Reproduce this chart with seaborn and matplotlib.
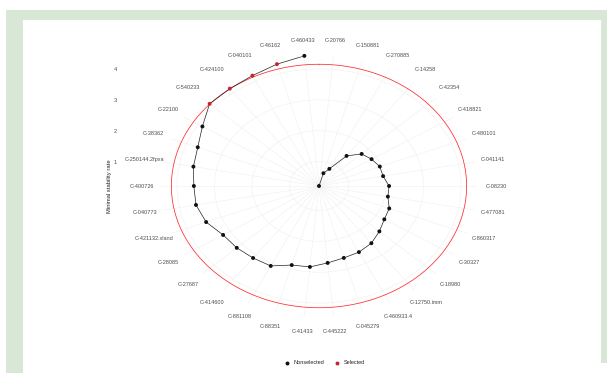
import numpy as np
import pandas as pd
import matplotlib
matplotlib.use("Agg")
import matplotlib.pyplot as plt
from matplotlib.patches import Rectangle
import seaborn as sns

# Genes in clockwise order and their stability scores
genes = ["C-20766", "C-150881", "C-270885", "C-14258", "C-42354", "C-418821",
         "C-480101", "C-041141", "C-08230", "C-477081", "C-860317", "C-30327",
         "C-18980", "C-12750.imm", "C-460933.4", "C-045279", "C-445222", "C-41433",
         "C-88351", "C-881108", "C-414600", "C-27687", "C-28085", "C-421132.xland",
         "C-040773", "C-400726", "C-250144.2fpxa", "C-38362", "C-22100", "C-540233",
         "C-424100", "C-040101", "C-46162", "C-460433"]
scores = [0.21, 0.64, 0.83, 1.43, 1.75, 1.86, 1.95, 1.95, 2.08, 2.08, 2.22, 2.26,
          2.39, 2.53, 2.60, 2.63, 2.71, 2.84, 2.87, 3.10, 3.13, 3.18, 3.22, 3.44,
          3.55, 3.55, 3.62, 3.68, 3.87, 4.16, 4.16, 4.20, 4.31, 4.44]
status = ["Nonselected"] * 29 + ["Selected"] * 4 + ["Nonselected"]
cutoff = 4.15
r_ticks = [1, 2, 3, 4]

sns.set_theme(style="white")
plt.rcParams["font.family"] = ["Liberation Sans", "DejaVu Sans"]

n = len(genes)
theta = (np.arange(n) + 0.5) * 2 * np.pi / n
df = pd.DataFrame({"gene": genes, "theta": theta, "score": scores, "status": status})

W, H, DPI = 607, 373, 100
fig = plt.figure(figsize=(W / DPI, H / DPI), dpi=DPI)
fig.patch.set_facecolor("white")

# page frame
green = "#d8e7d6"
fig.patches.append(Rectangle((6 / W, 0), (W - 6) / W, 1 - 10 / H, transform=fig.transFigure,
                             facecolor=green, edgecolor="none", zorder=-20))
fig.patches.append(Rectangle((23 / W, 0), (601 - 23) / W, 1 - 20 / H, transform=fig.transFigure,
                             facecolor="white", edgecolor="none", zorder=-19))
fig.patches.append(Rectangle((601 / W, 0), 6 / W, 10 / H, transform=fig.transFigure,
                             facecolor="white", edgecolor="none", zorder=-19))

# polar panel (stretched to an ellipse)
cx, cy = 319, 186
rx, ry = 158.5, 130.7
ax = fig.add_axes([(cx - rx) / W, (H - cy - ry) / H, 2 * rx / W, 2 * ry / H],
                  projection="polar")
ax.set_aspect("auto")
ax.set_theta_zero_location("N")
ax.set_theta_direction(-1)
rmin, rmax = min(scores), max(scores)
ax.set_ylim(rmin, rmax)
ax.set_facecolor("none")
ax.spines["polar"].set_visible(False)
ax.set_xticks(theta)
ax.set_xticklabels([])
ax.set_yticks(r_ticks)
ax.set_yticklabels([])
ax.grid(True, color="#f1f1f1", lw=0.45)
ax.tick_params(length=0)

# cutoff ring
ring = np.linspace(0, 2 * np.pi, 500)
ax.plot(ring, np.full_like(ring, cutoff), color="#ff2a2a", lw=0.55, zorder=2)

sns.lineplot(data=df, x="theta", y="score", sort=False, estimator=None,
             color="#222222", lw=0.5, ax=ax, zorder=3)
sns.scatterplot(data=df, x="theta", y="score", hue="status",
                hue_order=["Nonselected", "Selected"],
                palette={"Nonselected": "#111111", "Selected": "#c0282d"},
                s=8, linewidth=0, ax=ax, zorder=4, clip_on=False)
ax.set_xlabel("")
ax.set_ylabel("")
handles, labels = ax.get_legend_handles_labels()
ax.get_legend().remove()

# gene labels centred on a ring outside the panel
lab_r = rmin + (cutoff - rmin) * 1.20
for g, t in zip(genes, theta):
    ax.annotate(g, xy=(t, lab_r), xycoords="data", ha="center", va="center",
                fontsize=4, color="#4d4d4d", annotation_clip=False)

# radial axis drawn on the left of the panel
rax = fig.add_axes([118 / W, (H - cy) / H, 0.0005, ry / H])
rax.set_ylim(rmin, rmax)
rax.set_yticks(r_ticks)
rax.set_yticklabels([str(v) for v in r_ticks], fontsize=4, color="#4d4d4d")
rax.set_xticks([])
rax.tick_params(axis="y", length=0, pad=1)
for s in rax.spines.values():
    s.set_visible(False)
rax.set_facecolor("none")

fig.text(109 / W, 1 - cy / H, "Minimal stability rate", rotation=90,
         ha="center", va="center", fontsize=4.2, color="#222222")

fig.legend(handles, labels, loc="center", bbox_to_anchor=(323 / W, 1 - 363 / H),
           ncol=2, frameon=False, fontsize=4, handletextpad=0.2,
           columnspacing=1.2, markerscale=1.0)

fig.savefig("out.png", dpi=DPI)
